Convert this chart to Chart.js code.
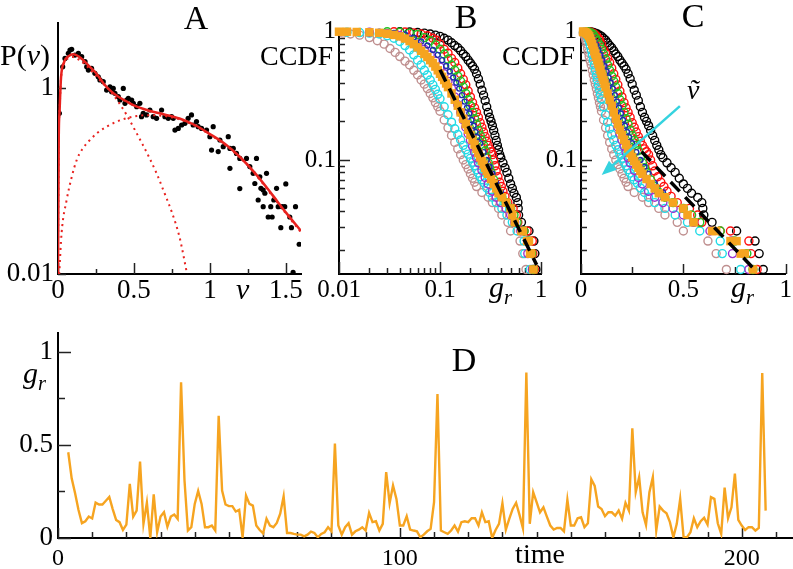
<!DOCTYPE html>
<html>
<head>
<meta charset="utf-8">
<script src="https://cdn.jsdelivr.net/npm/chart.js@4.4.0/dist/chart.umd.min.js"></script>
<style>
  body { margin: 0; background: #fff; }
  #wrap { position: relative; width: 793px; height: 569px; overflow: hidden; font-family: "Liberation Serif", "DejaVu Serif", serif; color: #000; }
  canvas { position: absolute; left: 0; top: 0; }
  .lbl { position: absolute; line-height: 1; white-space: nowrap; }
  .it { font-style: italic; }
  .lbl sub { font-size: 0.68em; vertical-align: baseline; position: relative; top: 0.32em; }
</style>
</head>
<body>
<div id="wrap">
  <canvas id="chartA" width="793" height="569"></canvas>
  <canvas id="chartB" width="793" height="569"></canvas>
  <canvas id="chartC" width="793" height="569"></canvas>
  <canvas id="chartD" width="793" height="569"></canvas>

  <div class="lbl" style="left:196px;top:1px;font-size:34px;transform:translateX(-50%)">A</div>
  <div class="lbl" style="left:466px;top:0px;font-size:34px;transform:translateX(-50%)">B</div>
  <div class="lbl" style="left:693px;top:-1px;font-size:34px;transform:translateX(-50%)">C</div>
  <div class="lbl" style="left:464px;top:343px;font-size:34px;transform:translateX(-50%)">D</div>
  <div class="lbl" style="left:0px;top:40px;font-size:30px">P(<i>v</i>)</div>
  <div class="lbl" style="left:260px;top:42px;font-size:28px">CCDF</div>
  <div class="lbl" style="left:502px;top:42px;font-size:28px">CCDF</div>
  <div class="lbl it" style="left:236px;top:274px;font-size:30px">v</div>
  <div class="lbl it" style="left:489px;top:272px;font-size:30px">g<sub>r</sub></div>
  <div class="lbl it" style="left:731px;top:272px;font-size:30px">g<sub>r</sub></div>
  <div class="lbl it" style="left:23px;top:358px;font-size:30px">g<sub>r</sub></div>
  <div class="lbl" style="left:540px;top:540px;font-size:28px;transform:translateX(-50%)">time</div>
  <div class="lbl it" style="left:687px;top:76px;font-size:28px">ṽ</div>
</div>
<script>
// ---- panel A: P(v)
const aDotV = [0.009,0.031,0.046,0.068,0.079,0.09,0.112,0.134,0.156,0.178,0.189,0.2,0.221,0.243,0.265,0.276,0.298,0.32,0.342,0.353,
  0.364,0.375,0.397,0.408,0.43,0.441,0.452,0.463,0.485,0.496,0.518,0.539,0.55,0.561,0.583,0.605,0.627,0.649,0.682,0.704,
  0.726,0.748,0.759,0.77,0.792,0.814,0.836,0.857,0.879,0.89,0.912,0.923,0.945,0.978,1.0,1.022,1.011,1.055,1.066,1.088,
  1.121,1.132,1.154,1.175,1.197,1.132,1.197,1.241,1.263,1.285,1.307,1.329,1.351,1.318,1.351,1.373,1.384,
  1.296,1.336,1.362,1.401,1.41,1.421,1.439,1.45,1.467,1.476,1.493,1.5,1.526,1.537,1.564,1.588,1.548];
const aDotP = [0.535,1.69,2.08,2.36,2.56,2.61,2.26,2.36,2.17,1.92,1.69,1.56,1.63,1.44,1.32,1.22,1.17,0.95,1.03,0.914,
  0.99,0.877,0.807,0.743,0.99,0.684,0.743,0.774,0.743,0.684,0.63,0.684,0.492,0.535,0.513,0.58,0.492,0.472,0.58,0.492,
  0.472,0.492,0.472,0.353,0.368,0.4,0.417,0.472,0.513,0.4,0.435,0.384,0.368,0.353,0.3,0.384,0.215,0.207,0.276,0.234,
  0.3,0.224,0.224,0.198,0.175,0.137,0.083,0.175,0.143,0.121,0.175,0.111,0.08,0.0625,0.053,0.121,0.041,
  0.094,0.0835,0.0738,0.053,0.041,0.0625,0.0835,0.053,0.0315,0.053,0.053,0.093,0.041,0.0315,0.053,0.0209,0.0104];
const aFitV = [0,0.005,0.01,0.02,0.04,0.07,0.1,0.15,0.2,0.25,0.3,0.35,0.4,0.45,0.5,0.6,0.7,0.8,0.9,1.0,1.1,1.2,1.3,1.4,1.5,1.6];
const aFitP = [0.01,0.3,0.55,1.3,1.9,2.2,2.3,2.1,1.75,1.45,1.12,0.92,0.8,0.72,0.65,0.57,0.52,0.47,0.4,0.32,0.25,0.18,0.12,0.075,0.046,0.029];
const aFastV = [0,0.005,0.01,0.02,0.04,0.07,0.1,0.15,0.2,0.25,0.3,0.35,0.4,0.45,0.5,0.55,0.6,0.65,0.7,0.75,0.8,0.85];
const aFastP = [0.01,0.3,0.55,1.28,1.85,2.1,2.15,1.95,1.65,1.35,1.1,0.9,0.7,0.52,0.37,0.26,0.18,0.12,0.075,0.046,0.025,0.01];
const aSlowV = [0.008,0.024,0.057,0.09,0.123,0.16,0.21,0.26,0.32,0.38,0.45,0.52,0.6,0.7,0.8,0.9,1.0,1.1,1.2,1.3,1.4,1.5,1.6];
const aSlowP = [0.01,0.028,0.0625,0.11,0.168,0.22,0.276,0.33,0.384,0.43,0.472,0.5,0.51,0.5,0.46,0.395,0.315,0.245,0.178,0.118,0.073,0.045,0.028];

// ---- panels B and C: CCDF of g_r, one pair of arrays per series
const blackG = [0.04,0.05,0.06,0.07,0.08,0.09,0.1,0.11,0.12,0.13,0.14,0.15,0.16,0.17,0.18,0.19,0.2,0.21,0.22,0.23,0.24,0.25,0.26,0.27,0.28,0.29,0.3,0.31,0.32,0.33,0.34,0.35,0.36,0.37,0.38,0.39,0.4,
  0.42,0.44,0.46,0.48,0.5,0.52,0.54,0.57,0.59,0.595,0.6,0.64,0.76,0.85,0.87,0.89];
const blackF = [1.0,0.995,0.985,0.975,0.96,0.94,0.92,0.89,0.86,0.82,0.78,0.75,0.71,0.67,0.64,0.6,0.57,0.54,0.51,0.47,0.43,0.39,0.35,0.32,0.29,0.26,0.235,0.215,0.2,0.185,0.17,0.155,0.142,0.13,0.12,0.11,0.104,
  0.095,0.087,0.08,0.072,0.065,0.06,0.055,0.051,0.0465,0.0419,0.0372,0.0326,0.0279,0.0233,0.0186,0.014];
const redG = [0.035,0.045,0.055,0.065,0.075,0.085,0.092,0.1,0.11,0.12,0.13,0.14,0.15,0.16,0.17,0.18,0.19,0.2,0.21,0.22,0.23,0.24,0.25,0.26,0.27,0.28,0.29,0.3,0.31,0.32,0.33,0.34,0.35,0.36,
  0.375,0.39,0.405,0.42,0.44,0.47,0.53,0.57,0.59,0.68,0.73,0.82,0.83,0.86];
const redF = [1.0,0.995,0.98,0.96,0.93,0.89,0.86,0.8,0.73,0.68,0.62,0.575,0.52,0.47,0.425,0.385,0.345,0.31,0.28,0.255,0.235,0.215,0.195,0.18,0.165,0.152,0.14,0.13,0.122,0.116,0.11,0.1,0.09,0.082,
  0.074,0.067,0.062,0.057,0.052,0.0465,0.0419,0.0372,0.0326,0.0279,0.0279,0.0233,0.0186,0.014];
const greenG = [0.03,0.04,0.05,0.06,0.07,0.08,0.09,0.1,0.11,0.12,0.13,0.14,0.15,0.16,0.17,0.18,0.19,0.2,0.21,0.22,0.23,0.24,0.25,0.26,0.27,0.28,0.29,0.3,0.31,0.32,
  0.34,0.36,0.38,0.41,0.45,0.5,0.54,0.58,0.68,0.75,0.81,0.84];
const greenF = [1.0,0.99,0.975,0.95,0.9,0.85,0.79,0.73,0.67,0.61,0.55,0.5,0.45,0.41,0.37,0.33,0.295,0.265,0.235,0.21,0.19,0.17,0.155,0.142,0.13,0.118,0.105,0.095,0.087,0.08,
  0.07,0.062,0.056,0.0512,0.0465,0.0419,0.0372,0.0326,0.0279,0.0233,0.0186,0.014];
const blueG = [0.025,0.035,0.045,0.055,0.065,0.075,0.085,0.095,0.105,0.115,0.125,0.135,0.145,0.155,0.165,0.175,0.185,0.195,0.205,0.215,0.225,0.235,
  0.25,0.27,0.29,0.31,0.33,0.36,0.4,0.45];
const blueF = [1.0,0.98,0.95,0.9,0.84,0.78,0.72,0.66,0.6,0.54,0.49,0.44,0.4,0.36,0.32,0.285,0.255,0.23,0.205,0.185,0.165,0.15,
  0.135,0.115,0.1,0.088,0.078,0.066,0.056,0.0465];
const purpleG = [0.02,0.03,0.04,0.05,0.06,0.07,0.08,0.09,0.1,0.11,0.12,0.13,0.14,0.15,0.16,0.17,0.18,0.19,0.2,0.21,0.22,0.23,0.24,
  0.26,0.28,0.3,0.33,0.36,0.4,0.45,0.5,0.55,0.63,0.735,0.74,0.82];
const purpleF = [0.99,0.97,0.93,0.87,0.8,0.73,0.66,0.59,0.53,0.47,0.41,0.36,0.31,0.27,0.235,0.205,0.18,0.16,0.143,0.128,0.115,0.104,0.095,
  0.083,0.073,0.065,0.057,0.0512,0.0465,0.0419,0.0372,0.0326,0.0279,0.0233,0.0186,0.014];
const cyanG = [0.012,0.016,0.02,0.025,0.03,0.035,0.04,0.045,0.05,0.055,0.06,0.065,0.07,0.075,0.08,0.085,0.09,0.095,0.1,
  0.11,0.12,0.13,0.14,0.15,0.16,0.17,0.18,0.19,0.2,0.21,0.22,0.23,0.24,0.25,0.26,
  0.275,0.29,0.31,0.33,0.36,0.41,0.46,0.52,0.58,0.68,0.69,0.78];
const cyanF = [0.99,0.985,0.975,0.96,0.93,0.89,0.84,0.78,0.72,0.66,0.6,0.55,0.5,0.46,0.42,0.385,0.355,0.325,0.3,
  0.26,0.225,0.197,0.175,0.158,0.143,0.13,0.12,0.111,0.103,0.096,0.09,0.084,0.079,0.074,0.07,
  0.066,0.0605,0.0558,0.0512,0.0465,0.0419,0.0372,0.0326,0.0279,0.0233,0.0186,0.014];
const rosyG = [0.011,0.013,0.016,0.02,0.024,0.028,0.032,0.036,0.04,0.045,0.05,0.055,0.06,0.065,0.07,0.075,0.08,0.085,0.09,0.095,0.1,
  0.11,0.12,0.13,0.14,0.15,0.16,0.17,0.18,0.19,0.2,0.21,0.22,0.23,0.26,0.3,0.33,0.38,0.41,0.47,0.5,0.62,0.66,0.71];
const rosyF = [0.975,0.96,0.94,0.9,0.85,0.8,0.74,0.69,0.64,0.59,0.55,0.5,0.46,0.42,0.39,0.36,0.33,0.305,0.28,0.26,0.24,
  0.205,0.178,0.155,0.137,0.122,0.11,0.1,0.092,0.085,0.078,0.072,0.067,0.062,0.0558,0.0512,0.0465,0.0419,0.0372,0.0326,0.0279,0.0233,0.0186,0.014];
const orangeG = [0.01,0.012,0.015,0.02,0.025,0.03,0.035,0.04,0.045,0.05,0.055,0.06,0.065,0.07,0.075,0.08,0.085,0.09,0.095,0.1,0.105,0.11,0.115,0.12,
  0.13,0.14,0.15,0.16,0.17,0.18,0.19,0.2,0.21,0.22,0.23,0.24,0.25,0.26,0.27,0.28,0.29,0.3,
  0.32,0.34,0.36,0.38,0.41,0.45,0.5,0.52,0.55,0.64,0.66,0.73,0.76,0.78,0.8,0.84];
const orangeF = [1.0,1.0,0.995,0.99,0.98,0.965,0.945,0.92,0.885,0.845,0.8,0.755,0.71,0.67,0.635,0.6,0.57,0.535,0.5,0.47,0.445,0.42,0.395,0.37,
  0.33,0.295,0.265,0.235,0.21,0.19,0.172,0.157,0.144,0.132,0.122,0.113,0.105,0.098,0.092,0.087,0.082,0.078,
  0.071,0.065,0.06,0.055,0.0512,0.0465,0.0419,0.0372,0.0326,0.0279,0.0279,0.0233,0.0233,0.0186,0.0186,0.014];
const fitBG = [0.1, 0.906];
const fitBF = [0.505, 0.0152];
const fitCG = [0.296, 0.842];
const fitCF = [0.116, 0.0143];
const arrowFrom = [0.483, 0.263];
const arrowTo = [0.101, 0.0762];

// ---- panel D: g_r against time, starting at t = 3
const dStart = 3;
const dGr = [0.46,0.32,0.24,0.15,0.08,0.09,0.115,0.105,0.19,0.18,
  0.18,0.2,0.22,0.155,0.097,0.085,0.043,0.072,0.29,0.115,
  0.147,0.41,0.076,0.19,0.0,0.234,0.031,0.115,0.138,0.061,
  0.115,0.126,0.103,0.836,0.31,0.04,0.058,0.183,0.252,0.183,
  0.058,0.058,0.067,0.04,0.656,0.255,0.18,0.171,0.171,0.142,
  0.151,0.004,0.228,0.183,0.174,0.067,0.043,0.025,0.103,0.067,
  0.058,0.081,0.13,0.223,0.027,0.027,0.022,0.018,0.018,0.009,
  0.018,0.034,0.027,0.004,0.022,0.031,0.058,0.036,0.507,0.067,
  0.018,0.058,0.079,0.018,0.036,0.045,0.058,0.04,0.135,0.085,
  0.09,0.04,0.076,0.354,0.187,0.282,0.21,0.067,0.067,0.117,
  0.045,0.04,0.036,0.004,0.018,0.036,0.049,0.192,0.772,0.04,
  0.031,0.022,0.04,0.067,0.034,0.085,0.09,0.085,0.106,0.106,
  0.067,0.138,0.085,0.09,0.0,0.043,0.076,0.187,0.045,0.103,
  0.156,0.189,0.124,0.052,0.888,0.076,0.246,0.192,0.138,0.165,
  0.115,0.067,0.045,0.054,0.054,0.036,0.205,0.067,0.067,0.106,
  0.111,0.058,0.079,0.315,0.279,0.169,0.156,0.117,0.138,0.138,
  0.12,0.147,0.103,0.189,0.147,0.588,0.246,0.327,0.138,0.07,
  0.246,0.327,0.04,0.169,0.147,0.133,0.085,0.004,0.076,0.21,
  0.004,0.004,0.031,0.106,0.058,0.09,0.108,0.072,0.219,0.21,
  0.079,0.022,0.27,0.106,0.165,0.345,0.097,0.067,0.043,0.058,
  0.058,0.04,0.054,0.885,0.147];

// ---- ticks
const aTicksX = [0, 0.25, 0.5, 0.75, 1, 1.25, 1.5];
const aLabelsX = [0, 0.5, 1, 1.5];
const aTicksY = [0.01, 1];
const aLabelsY = [0.01, 1];
const bTicksX = [0.01,0.02,0.03,0.04,0.05,0.06,0.07,0.08,0.09,0.1,0.2,0.3,0.4,0.5,0.6,0.7,0.8,0.9,1];
const bLabelsX = [0.01, 0.1, 1];
const logTicksY = [0.02,0.03,0.04,0.05,0.06,0.07,0.08,0.09,0.1,0.2,0.3,0.4,0.5,0.6,0.7,0.8,0.9,1];
const logLabelsY = [0.1, 1];
const cTicksX = [0, 0.25, 0.5, 0.75, 1];
const cLabelsX = [0, 0.5, 1];
const dTicksX = [0,10,20,30,40,50,60,70,80,90,100,110,120,130,140,150,160,170,180,190,200,210];
const dLabelsX = [0, 100, 200];
const dTicksY = [0, 0.25, 0.5, 0.75, 1];
const dLabelsY = [0, 0.5, 1];

const ORANGE = '#f6a420';
const RED = '#e8221f';
const SERIF = '"Liberation Serif", "DejaVu Serif", serif';
Chart.defaults.font.family = SERIF;
Chart.defaults.color = '#000';

function pairs(xs, ys) {
  return xs.map((x, i) => ({ x: x, y: ys[i] }));
}

function axis(type, min, max, ticks, labels, size, fontSize, pad) {
  return {
    type: type, min: min, max: max,
    afterBuildTicks: (s) => { s.ticks = ticks.map((v) => ({ value: v })); },
    afterFit: (s) => { if (s.isHorizontal()) s.height = size; else s.width = size; },
    grid: { display: false, drawTicks: false },
    border: { display: true, color: '#000', width: 2 },
    ticks: {
      autoSkip: false, maxRotation: 0, minRotation: 0, padding: pad, color: '#000',
      font: { family: SERIF, size: fontSize },
      callback: (v) => (labels.includes(v) ? String(v) : '')
    }
  };
}

// short tick marks pointing into the plot
function innerTicks(spec) {
  return {
    id: 'innerTicks',
    beforeDatasetsDraw(chart) {
      const ctx = chart.ctx;
      ctx.save();
      ctx.strokeStyle = '#222';
      ctx.lineWidth = 1.5;
      ['x', 'y'].forEach((id) => {
        const scale = chart.scales[id];
        const s = spec[id];
        s.values.forEach((v) => {
          const len = s.major.includes(v) ? s.majorLen : s.minorLen;
          const p = Math.round(scale.getPixelForValue(v)) + 0.5;
          ctx.beginPath();
          if (id === 'x') { ctx.moveTo(p, scale.top); ctx.lineTo(p, scale.top - len); }
          else { ctx.moveTo(scale.right, p); ctx.lineTo(scale.right + len, p); }
          ctx.stroke();
        });
      });
      ctx.restore();
    }
  };
}

const arrowPlugin = {
  id: 'arrow',
  afterDatasetsDraw(chart) {
    const xs = chart.scales.x, ys = chart.scales.y, ctx = chart.ctx;
    const x1 = xs.getPixelForValue(arrowFrom[0]), y1 = ys.getPixelForValue(arrowFrom[1]);
    const x2 = xs.getPixelForValue(arrowTo[0]), y2 = ys.getPixelForValue(arrowTo[1]);
    const ang = Math.atan2(y2 - y1, x2 - x1);
    ctx.save();
    ctx.strokeStyle = '#35d3df';
    ctx.fillStyle = '#35d3df';
    ctx.lineWidth = 2.5;
    ctx.beginPath();
    ctx.moveTo(x1, y1);
    ctx.lineTo(x2 - 10 * Math.cos(ang), y2 - 10 * Math.sin(ang));
    ctx.stroke();
    ctx.beginPath();
    ctx.moveTo(x2, y2);
    ctx.lineTo(x2 - 15 * Math.cos(ang) + 6 * Math.sin(ang), y2 - 15 * Math.sin(ang) - 6 * Math.cos(ang));
    ctx.lineTo(x2 - 15 * Math.cos(ang) - 6 * Math.sin(ang), y2 - 15 * Math.sin(ang) + 6 * Math.cos(ang));
    ctx.closePath();
    ctx.fill();
    ctx.restore();
  }
};

function baseOptions(padding, scales) {
  return {
    responsive: false,
    animation: false,
    events: [],
    layout: { padding: padding },
    plugins: { legend: { display: false }, tooltip: { enabled: false } },
    scales: scales
  };
}

function ccdfDatasets(fitG, fitF) {
  const open = (label, g, f, color, r) => ({
    label: label, data: pairs(g, f), showLine: false, clip: false,
    pointStyle: 'circle', pointRadius: r, pointBorderWidth: 1.4,
    pointBackgroundColor: 'rgba(0,0,0,0)', backgroundColor: 'rgba(0,0,0,0)',
    pointBorderColor: color, borderColor: color
  });
  return [
    { label: 'fit', data: pairs(fitG, fitF), showLine: true, borderColor: '#000', borderWidth: 3.5,
      borderDash: [13, 8], pointRadius: 0, clip: false },
    { label: 'orange', data: pairs(orangeG, orangeF), showLine: false, clip: false, pointStyle: 'rect',
      pointRadius: 6, pointBorderWidth: 0, pointBackgroundColor: ORANGE, backgroundColor: ORANGE, borderColor: ORANGE },
    open('blue', blueG, blueF, '#1f2db0', 2.5),
    open('green', greenG, greenF, '#22c322', 4),
    open('purple', purpleG, purpleF, '#9b30d0', 4),
    open('red', redG, redF, '#ff1010', 4),
    open('cyan', cyanG, cyanF, '#22dbe6', 4),
    open('rosy', rosyG, rosyF, '#bf8f8f', 4),
    open('black', blackG, blackF, '#000', 4)
  ];
}

// panel A
new Chart(document.getElementById('chartA'), {
  type: 'scatter',
  data: {
    datasets: [
      { label: 'fit', data: pairs(aFitV, aFitP), showLine: true, borderColor: RED, borderWidth: 2.5,
        pointRadius: 0, cubicInterpolationMode: 'monotone' },
      { label: 'fast', data: pairs(aFastV, aFastP), showLine: true, borderColor: RED, borderWidth: 2,
        borderDash: [2, 4], pointRadius: 0, cubicInterpolationMode: 'monotone' },
      { label: 'slow', data: pairs(aSlowV, aSlowP), showLine: true, borderColor: RED, borderWidth: 2,
        borderDash: [2, 4], pointRadius: 0, cubicInterpolationMode: 'monotone' },
      { label: 'data', data: pairs(aDotV, aDotP), showLine: false, pointRadius: 2.6, pointBorderWidth: 0,
        pointBackgroundColor: '#000', backgroundColor: '#000' }
    ]
  },
  options: baseOptions({ left: 0, top: 23, right: 492, bottom: 265 }, {
    x: axis('linear', 0, 1.6, aTicksX, aLabelsX, 30, 27, 1),
    y: axis('logarithmic', 0.01, 5, aTicksY, aLabelsY, 58, 27, 4)
  }),
  plugins: [innerTicks({
    x: { values: aTicksX, major: aLabelsX, majorLen: 11, minorLen: 5 },
    y: { values: aTicksY, major: aLabelsY, majorLen: 8, minorLen: 8 }
  })]
});

// panel B
new Chart(document.getElementById('chartB'), {
  type: 'scatter',
  data: { datasets: ccdfDatasets(fitBG, fitBF) },
  options: baseOptions({ left: 279, top: 29, right: 252, bottom: 265 }, {
    x: axis('logarithmic', 0.01, 1, bTicksX, bLabelsX, 30, 25, 1),
    y: axis('logarithmic', 0.0129, 1.05, logTicksY, logLabelsY, 60, 25, 3)
  }),
  plugins: [innerTicks({
    x: { values: bTicksX, major: bLabelsX, majorLen: 12, minorLen: 6 },
    y: { values: logTicksY, major: logLabelsY, majorLen: 11, minorLen: 6 }
  })]
});

// panel C
new Chart(document.getElementById('chartC'), {
  type: 'scatter',
  data: { datasets: ccdfDatasets(fitCG, fitCF) },
  options: baseOptions({ left: 521, top: 29, right: 7, bottom: 265 }, {
    x: axis('linear', 0, 1, cTicksX, cLabelsX, 30, 25, 1),
    y: axis('logarithmic', 0.0129, 1.05, logTicksY, logLabelsY, 60, 25, 4)
  }),
  plugins: [innerTicks({
    x: { values: cTicksX, major: cLabelsX, majorLen: 10, minorLen: 7 },
    y: { values: logTicksY, major: logLabelsY, majorLen: 11, minorLen: 6 }
  }), arrowPlugin]
});

// panel D
new Chart(document.getElementById('chartD'), {
  type: 'scatter',
  data: {
    datasets: [
      { label: 'g_r', data: dGr.map((g, i) => ({ x: dStart + i, y: g })), showLine: true,
        borderColor: ORANGE, borderWidth: 2.4, pointRadius: 0, tension: 0 }
    ]
  },
  options: baseOptions({ left: 0, top: 333, right: 0, bottom: 1 }, {
    x: axis('linear', 0, 215, dTicksX, dLabelsX, 30, 24, 6),
    y: axis('linear', 0, 1.1, dTicksY, dLabelsY, 58, 27, 5)
  }),
  plugins: [innerTicks({
    x: { values: dTicksX, major: dLabelsX, majorLen: 10, minorLen: 6 },
    y: { values: dTicksY, major: dLabelsY, majorLen: 13, minorLen: 7 }
  })]
});
</script>
</body>
</html>
